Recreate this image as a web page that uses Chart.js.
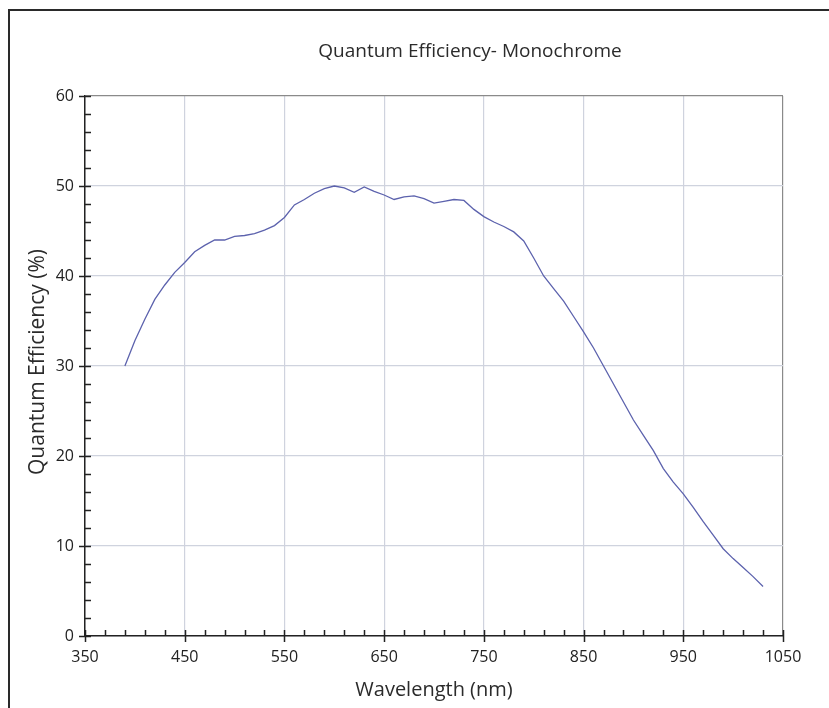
<!DOCTYPE html>
<html>
<head>
<meta charset="utf-8">
<script src="https://cdn.jsdelivr.net/npm/chart.js@4"></script>
<style>
  html, body { margin: 0; padding: 0; background: #fff; }
  canvas { display: block; }
</style>
</head>
<body>
<canvas id="qe-chart" width="829" height="708"></canvas>
<script>
// Wavelength samples (nm) and quantum efficiency (%)
const wavelengths = [
  390, 400, 410, 420, 430, 440, 450, 460, 470, 480,
  490, 500, 510, 520, 530, 540, 550, 560, 570, 580,
  590, 600, 610, 620, 630, 640, 650, 660, 670, 680,
  690, 700, 710, 720, 730, 740, 750, 760, 770, 780,
  790, 800, 810, 820, 830, 840, 850, 860, 870, 880,
  890, 900, 910, 920, 930, 940, 950, 960, 970, 980,
  990, 1000, 1010, 1020, 1030
];
const qeValues = [
  30.0, 32.8, 35.2, 37.4, 39.0, 40.4, 41.5, 42.7, 43.4, 44.0,
  44.0, 44.4, 44.5, 44.7, 45.1, 45.6, 46.5, 47.9, 48.5, 49.2,
  49.7, 50.0, 49.8, 49.3, 49.9, 49.4, 49.0, 48.5, 48.8, 48.9,
  48.6, 48.1, 48.3, 48.5, 48.4, 47.4, 46.6, 46.0, 45.5, 44.9,
  43.9, 42.0, 40.0, 38.6, 37.2, 35.5, 33.8, 32.0, 30.0, 28.0,
  26.0, 24.0, 22.3, 20.6, 18.6, 17.1, 15.8, 14.3, 12.7, 11.2,
  9.7, 8.6, 7.6, 6.6, 5.5
];

// Axis tick labels
const xTickLabels = [350, 450, 550, 650, 750, 850, 950, 1050];
const yTickLabels = [0, 10, 20, 30, 40, 50, 60];

const FONT = '"Open Sans", "Noto Sans", sans-serif';

// Draws the outer frame, title, axis titles and the small tick marks
const decorPlugin = {
  id: 'decor',
  afterDraw(chart) {
    const ctx = chart.ctx;
    const area = chart.chartArea;
    const xs = chart.scales.x;
    const ys = chart.scales.y;

    ctx.save();

    // frame round the picture
    ctx.strokeStyle = '#2a2a2a';
    ctx.lineWidth = 2;
    ctx.beginPath();
    ctx.moveTo(9, 708);
    ctx.lineTo(9, 10);
    ctx.lineTo(829, 10);
    ctx.stroke();

    // tick marks on x axis: minor every 20, major every 100
    ctx.strokeStyle = '#222';
    ctx.lineWidth = 1.5;
    ctx.beginPath();
    for (let v = 350; v <= 1050; v += 20) {
      const px = Math.round(xs.getPixelForValue(v)) + 0.5;
      const major = (v - 350) % 100 === 0;
      ctx.moveTo(px, area.bottom - 6);
      ctx.lineTo(px, area.bottom + (major ? 6 : 0));
    }
    // tick marks on y axis: minor every 2, major every 10
    for (let v = 0; v <= 60; v += 2) {
      const py = Math.round(ys.getPixelForValue(v)) + 0.5;
      const major = v % 10 === 0;
      ctx.moveTo(area.left - (major ? 6 : 0), py);
      ctx.lineTo(area.left + 6, py);
    }
    ctx.stroke();

    // title
    ctx.fillStyle = '#2b2b2b';
    ctx.textAlign = 'center';
    ctx.textBaseline = 'middle';
    ctx.font = '19px ' + FONT;
    ctx.fillText('Quantum Efficiency- Monochrome', 470, 52);

    // axis titles
    ctx.font = '20px ' + FONT;
    ctx.fillText('Wavelength (nm)', (area.left + area.right) / 2, 690);
    ctx.font = '21px ' + FONT;
    ctx.translate(38, 362);
    ctx.rotate(-Math.PI / 2);
    ctx.fillText('Quantum Efficiency (%)', 0, 0);

    ctx.restore();
  }
};

const ctx = document.getElementById('qe-chart');
new Chart(ctx, {
  type: 'line',
  data: {
    datasets: [{
      label: 'Quantum Efficiency',
      data: wavelengths.map((w, i) => ({ x: w, y: qeValues[i] })),
      borderColor: '#5c62ad',
      borderWidth: 1.3,
      pointRadius: 0,
      tension: 0,
      fill: false
    }]
  },
  options: {
    responsive: false,
    animation: false,
    layout: {
      padding: { top: 96, right: 46, left: 0, bottom: 0 }
    },
    plugins: {
      legend: { display: false },
      title: { display: false },
      tooltip: { enabled: false }
    },
    scales: {
      x: {
        type: 'linear',
        min: 350,
        max: 1050,
        afterBuildTicks(scale) {
          scale.ticks = xTickLabels.map(v => ({ value: v }));
        },
        afterFit(scale) {
          scale.height = 72;
        },
        grid: {
          drawTicks: false,
          color: c => (c.tick && c.tick.value === 1050) ? '#8a8a8a' : '#cfd3de',
          lineWidth: 1.2
        },
        border: { display: true, color: '#222', width: 1.5 },
        ticks: {
          padding: 12,
          color: '#222',
          font: { family: FONT, size: 16 },
          maxRotation: 0,
          callback: v => String(v)
        }
      },
      y: {
        type: 'linear',
        min: 0,
        max: 60,
        afterBuildTicks(scale) {
          scale.ticks = yTickLabels.map(v => ({ value: v }));
        },
        afterFit(scale) {
          scale.width = 85;
        },
        grid: {
          drawTicks: false,
          color: c => (c.tick && c.tick.value === 60) ? '#8a8a8a' : '#cfd3de',
          lineWidth: 1.2
        },
        border: { display: true, color: '#222', width: 1.5 },
        ticks: {
          padding: 11,
          color: '#222',
          font: { family: FONT, size: 16 },
          callback: v => String(v)
        }
      }
    }
  },
  plugins: [decorPlugin]
});
</script>
</body>
</html>
